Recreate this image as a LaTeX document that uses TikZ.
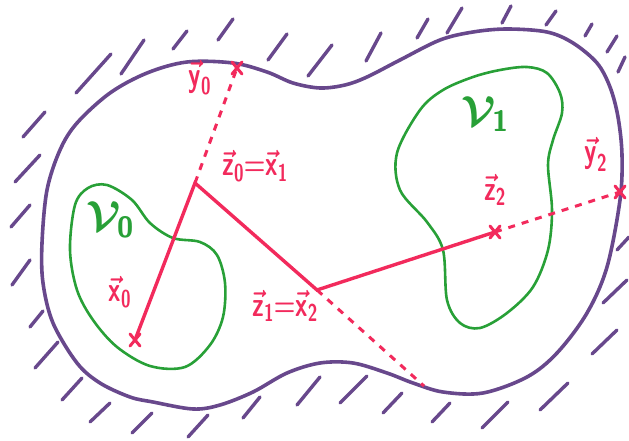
\RequirePackage{fix-cm}
\documentclass[tikz,border=0pt]{standalone}
\usepackage{amsmath}
\usetikzlibrary{calc}
\definecolor{bordc}{RGB}{104,72,140}
\definecolor{regc}{RGB}{40,160,55}
\definecolor{pathc}{RGB}{242,42,92}
\tikzset{
  boundary/.style={draw=bordc,line width=3.6pt,line cap=round},
  hatch/.style={draw=bordc,line width=3.4pt,line cap=round},
  region/.style={draw=regc,line width=2.6pt},
  walk/.style={draw=pathc,line width=3.4pt,line cap=round,line join=miter},
  dashwalk/.style={draw=pathc,line width=3pt,dash pattern=on 7pt off 7pt},
  vlab/.style={text=pathc,font=\fontsize{29}{29}\selectfont\boldmath,inner sep=1pt},
  rlab/.style={text=regc,font=\fontsize{42}{42}\selectfont\boldmath,inner sep=1pt},
  xmark/.style={draw=pathc,line width=3pt,line cap=round}
}
\newcommand{\xcross}[1]{\draw[xmark] ($(#1)+(-5,-6)$) -- ($(#1)+(5,6)$) ($(#1)+(-5,6)$) -- ($(#1)+(5,-6)$);}
\newcommand{\hw}[1]{\text{\sffamily\bfseries #1}}
\newcommand{\vv}[2]{\vec{\hw{#1}}_{\hw{#2}}}
\newcommand{\narrow}[1]{\scalebox{0.85}[1.2]{#1}}
\begin{document}
\begin{tikzpicture}[x=1pt,y=-1pt]
\useasboundingbox (0,0) rectangle (629,441);
% hatching
\foreach \a/\b/\c/\d in {
 23/137/45/112, 76/93/111/54, 121/74/144/40, 173/49/187/31, 218/40/233/19,
 268/60/287/34, 308/76/332/45, 366/61/381/33, 417/38/428/19, 447/33/462/8,
 502/23/511/6, 546/25/556/11, 585/36/592/24, 607/52/617/36, 618/72/625/57,
 617/250/629/237, 603/303/627/280, 592/354/617/330, 540/410/568/383,
 482/428/508/402, 432/422/450/403, 383/413/402/393, 340/403/367/376,
 297/405/320/377, 243/418/260/397, 188/437/208/415, 132/433/152/413,
 90/422/110/403, 62/400/82/378, 35/368/58/342, 30/327/43/311,
 12/285/30/260, 11/227/30/205, 15/182/40/155}
 {\draw[hatch] (\a,\b) -- (\c,\d);}
% outer boundary
\draw[boundary] plot[smooth cycle,tension=0.55] coordinates {
 (42,243) (47,190) (60,150) (77,123) (110,93) (147,73) (187,62) (233,63)
 (267,72) (293,83) (320,88) (345,85) (367,77) (400,60) (440,40) (473,32)
 (507,29) (547,32) (573,43) (597,63) (610,87) (618,117) (622,155) (620,200)
 (607,267) (587,313) (557,353) (527,377) (483,393) (443,392) (413,383)
 (387,373) (353,363) (320,363) (287,373) (253,392) (220,405) (193,409)
 (153,402) (130,397) (100,383) (77,363) (53,323) (43,283)};
% regions
\draw[region] plot[smooth cycle,tension=0.55] coordinates {
 (107,185) (132,200) (150,223) (173,238) (200,242) (217,255) (225,283)
 (223,317) (210,345) (185,367) (150,366) (117,347) (93,320) (77,290)
 (70,250) (75,205) (88,188)};
\draw[region] plot[smooth cycle,tension=0.55] coordinates {
 (500,70) (527,67) (547,73) (560,93) (562,113) (553,140) (548,165)
 (552,210) (548,250) (533,287) (507,313) (480,328) (460,323) (447,300)
 (443,250) (427,222) (400,190) (397,153) (420,110) (443,90) (473,77)};
% points
\coordinate (x0) at (135,340);
\coordinate (z0) at (195,183);
\coordinate (z1) at (317,290);
\coordinate (z2) at (495,232);
\coordinate (y0) at (237,68);
\coordinate (y2) at (620,192);
\coordinate (e1) at (424,386);
% dashed segments
\draw[dashwalk] (z0) -- (y0);
\draw[dashwalk] (z1) -- (e1);
\draw[dashwalk] (z2) -- (y2);
% walk
\draw[walk] (x0) -- (z0) -- (z1) -- (z2);
\xcross{x0}
\xcross{y0}
\xcross{z2}
\xcross{y2}
% labels
\node[vlab] (ly0) at (200,78) {\narrow{$\vv{y}{0}$}};
\node[vlab] (lz0) at (255,166) {\narrow{$\vv{z}{0}{=}\vv{x}{1}$}};
\node[vlab] (lx0) at (120,292) {\narrow{$\vv{x}{0}$}};
\node[vlab] (lz1) at (285,306) {\narrow{$\vv{z}{1}{=}\vv{x}{2}$}};
\node[vlab] (lz2) at (495,190) {\narrow{$\vv{z}{2}$}};
\node[vlab] (ly2) at (596,154) {\narrow{$\vv{y}{2}$}};
\node[rlab] (lv0) at (110,220) {$\mathcal{V}_{\hw{0}}$};
\node[rlab] (lv1) at (485,114) {$\mathcal{V}_{\hw{1}}$};
\end{tikzpicture}
\end{document}
